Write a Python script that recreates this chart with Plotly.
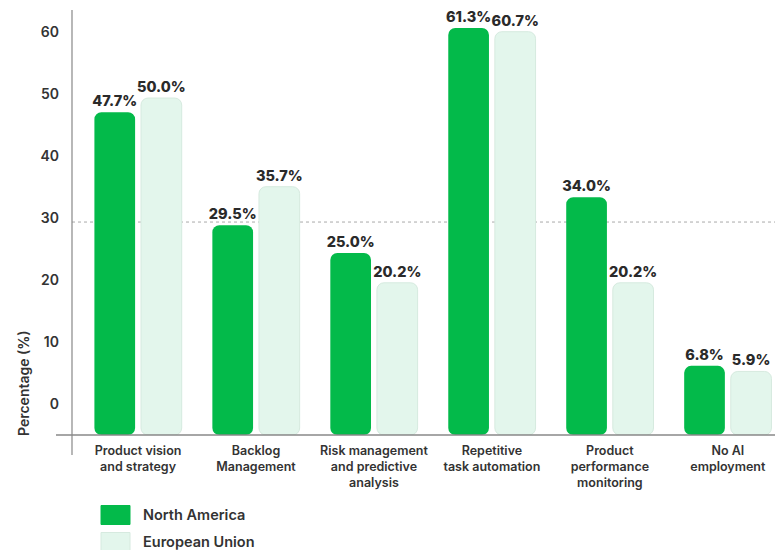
import plotly.graph_objects as go

categories = ["Product vision<br>and strategy", "Backlog<br>Management",
              "Risk management<br>and predictive<br>analysis", "Repetitive<br>task automation",
              "Product<br>performance<br>monitoring", "No AI<br>employment"]
north_america = [47.7, 29.5, 25.0, 61.3, 34.0, 6.8]
european_union = [50.0, 35.7, 20.2, 60.7, 20.2, 5.9]
y_ticks = [0, 10, 20, 30, 40, 50, 60]

AXIS_MIN = -4.35
AXIS_MAX = 64.2
NA_COLOR = "#03BA4A"
EU_COLOR = "#E3F6EC"
FONT = "Inter"
TXT = "#333333"

W, H = 775, 550
L, T, R = 72, 10, 0
B = H - 435
plot_w = W - L - R
plot_h = H - T - B

def px_x(px):
    return (px - L) / plot_w

def px_y(py):
    return 1 - (py - T) / plot_h

x_idx = list(range(len(categories)))

fig = go.Figure()
fig.add_trace(go.Bar(
    x=x_idx, y=[v - AXIS_MIN for v in north_america], base=AXIS_MIN,
    name="North America", marker=dict(color=NA_COLOR, line=dict(width=0)),
    width=0.345, offset=-0.37,
    text=[f"{v:.1f}%" for v in north_america], textposition="outside", constraintext="none",
    textfont=dict(family=FONT, size=14.5, color="#2a2a2a", weight=800),
    cliponaxis=False, showlegend=False,
))
fig.add_trace(go.Bar(
    x=x_idx, y=[v - AXIS_MIN for v in european_union], base=AXIS_MIN,
    name="European Union", marker=dict(color=EU_COLOR, line=dict(width=1, color="#D6EADF")),
    width=0.345, offset=0.025,
    text=[f"{v:.1f}%" for v in european_union], textposition="outside", constraintext="none",
    textfont=dict(family=FONT, size=14.5, color="#2a2a2a", weight=800),
    cliponaxis=False, showlegend=False,
))

fig.update_layout(
    width=W, height=H,
    margin=dict(l=L, r=R, t=T, b=B),
    plot_bgcolor="white", paper_bgcolor="white",
    barmode="overlay", barcornerradius=7,
    font=dict(family=FONT, color=TXT),
    showlegend=False,
)
fig.update_xaxes(
    range=[-0.56, 5.40], tickmode="array", tickvals=x_idx, ticktext=categories,
    tickfont=dict(family=FONT, size=12.5, color=TXT, weight=600),
    showgrid=False, showline=False, zeroline=False, ticks="", ticklabelstandoff=6,
)
fig.update_yaxes(
    range=[AXIS_MIN, AXIS_MAX], tickmode="array", tickvals=y_ticks,
    ticktext=[str(t) for t in y_ticks],
    tickfont=dict(family=FONT, size=14, color=TXT, weight=600),
    showgrid=False, showline=False, zeroline=False, ticks="", ticklabelstandoff=12,
    ticklabelshift=-4,
)

# dotted gridline at 30
fig.add_shape(type="line", xref="paper", yref="y", x0=0, x1=1, y0=30, y1=30,
              line=dict(color="#AAAAAA", width=1, dash="dot"), layer="below")
# axis lines (cross style)
fig.add_shape(type="line", xref="paper", yref="paper", x0=0, x1=0,
              y0=px_y(455), y1=1.0, line=dict(color="#888888", width=1.2))
fig.add_shape(type="line", xref="paper", yref="paper", x0=px_x(56), x1=1,
              y0=0, y1=0, line=dict(color="#888888", width=1.5))

# y-axis title
fig.add_annotation(text="Percentage (%)", xref="paper", yref="paper",
                   x=px_x(23), y=px_y(383), textangle=-90,
                   xanchor="center", yanchor="middle",
                   showarrow=False, font=dict(family=FONT, size=14, color=TXT, weight=600))

# custom legend
for label, color, line_c, yc in [("North America", NA_COLOR, NA_COLOR, 515),
                                 ("European Union", EU_COLOR, "#D6EADF", 542)]:
    fig.add_shape(type="rect", xref="paper", yref="paper",
                  x0=px_x(101), x1=px_x(130),
                  y0=px_y(yc - 9.5), y1=px_y(yc + 9.5),
                  fillcolor=color, line=dict(color=line_c, width=1))
    fig.add_annotation(text=label, xref="paper", yref="paper",
                       x=px_x(141), y=px_y(yc - 1), xanchor="left", yanchor="middle",
                       showarrow=False, font=dict(family=FONT, size=14.5, color=TXT, weight=600))

fig.write_html(
    "out.html",
    config={"displayModeBar": False},
    post_script="document.body.style.margin='0';document.body.style.overflow='hidden';"
                "document.documentElement.style.overflow='hidden';",
)
